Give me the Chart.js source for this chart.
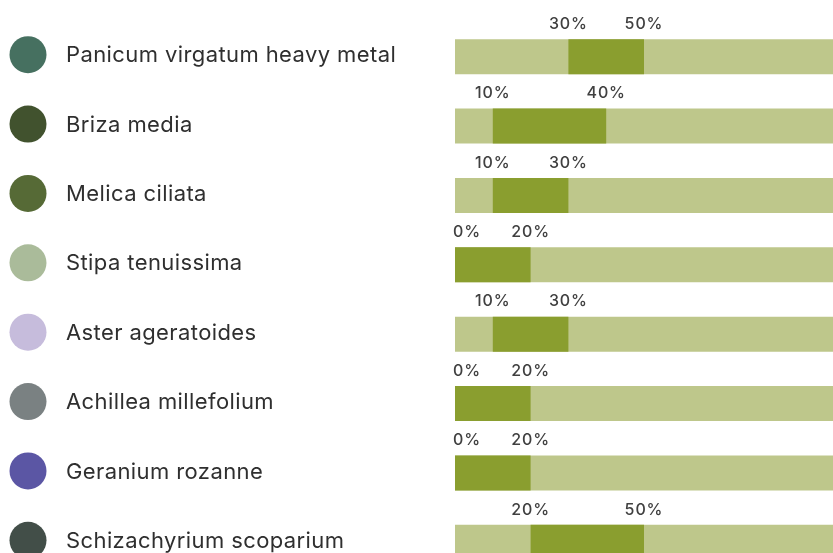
<!DOCTYPE html>
<html>
<head>
<meta charset="utf-8">
<script src="https://cdn.jsdelivr.net/npm/chart.js@4/dist/chart.umd.min.js"></script>
<style>
  html, body { margin: 0; padding: 0; background: #ffffff; overflow: hidden; }
  #wrap { width: 833px; height: 553px; overflow: hidden; }
  canvas { display: block; }
</style>
</head>
<body>
<div id="wrap"><canvas id="c" width="833" height="578"></canvas></div>
<script>
// Plants and their share ranges (percent)
const plants = [
  'Panicum virgatum heavy metal',
  'Briza media',
  'Melica ciliata',
  'Stipa tenuissima',
  'Aster ageratoides',
  'Achillea millefolium',
  'Geranium rozanne',
  'Schizachyrium scoparium'
];
const rangeStart = [30, 10, 10, 0, 10, 0, 0, 20];
const rangeEnd   = [50, 40, 30, 20, 30, 20, 20, 50];
const trackMax = 100;
const swatchColors = ['#467060', '#41522e', '#566a36', '#aabb9a', '#c6bcdc', '#7a8182', '#5b56a4', '#424e48'];

const TRACK = '#bec78b';
const RANGE = '#8a9e2f';
const TEXT = '#2f2f2f';

// Range labels above each bar + swatch list on the left
const annotate = {
  id: 'annotate',
  afterDatasetsDraw(chart) {
    const ctx = chart.ctx;
    const xs = chart.scales.x;
    const area = chart.chartArea;
    const meta = chart.getDatasetMeta(0);
    ctx.save();
    meta.data.forEach((bar, i) => {
      const top = bar.y - bar.height / 2;
      ctx.font = '500 16px Inter, "DejaVu Sans", sans-serif';
      ctx.letterSpacing = '0.9px';
      ctx.fillStyle = '#404040';
      ctx.textBaseline = 'middle';
      [rangeStart[i], rangeEnd[i]].forEach(v => {
        const txt = v + '%';
        const w = ctx.measureText(txt).width;
        let x = xs.getPixelForValue(v) - w / 2;
        if (x < area.left - 2) x = area.left - 2;
        ctx.textAlign = 'left';
        ctx.fillText(txt, x, top - 15);
      });

      // swatch and name
      ctx.letterSpacing = '0.4px';
      ctx.beginPath();
      ctx.arc(28, bar.y - 2, 18.5, 0, Math.PI * 2);
      ctx.fillStyle = swatchColors[i];
      ctx.fill();
      ctx.font = '400 22px Inter, "DejaVu Sans", sans-serif';
      ctx.fillStyle = TEXT;
      ctx.textAlign = 'left';
      ctx.textBaseline = 'middle';
      ctx.fillText(plants[i], 66, bar.y - 1);
    });
    ctx.restore();
  }
};

new Chart(document.getElementById('c'), {
  type: 'bar',
  data: {
    labels: plants,
    datasets: [
      {
        label: 'range',
        data: rangeStart.map((s, i) => [s, rangeEnd[i]]),
        backgroundColor: RANGE,
        borderWidth: 0,
        grouped: false,
        order: 0,
        barPercentage: 1,
        categoryPercentage: 0.505
      },
      {
        label: 'track',
        data: plants.map(() => [0, trackMax]),
        backgroundColor: TRACK,
        borderWidth: 0,
        grouped: false,
        order: 1,
        barPercentage: 1,
        categoryPercentage: 0.505
      }
    ]
  },
  options: {
    indexAxis: 'y',
    responsive: false,
    animation: false,
    layout: { padding: { left: 455, right: 0, top: 22, bottom: 1 } },
    plugins: { legend: { display: false }, tooltip: { enabled: false } },
    scales: {
      x: { display: false, min: 0, max: trackMax },
      y: { display: false }
    }
  },
  plugins: [annotate]
});
</script>
</body>
</html>
